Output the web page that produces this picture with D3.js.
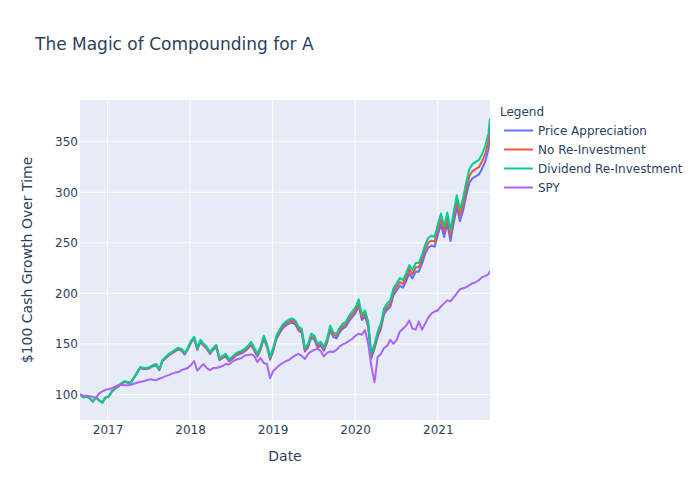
<!DOCTYPE html>
<html><head><meta charset="utf-8">
<script src="https://cdn.jsdelivr.net/npm/d3@7"></script>
<style>body{margin:0;background:#fff;} text{font-family:"DejaVu Sans",verdana,arial,sans-serif;}</style>
</head><body>
<svg id="chart" width="700" height="500"></svg>
<script>
const dates = ["2016-09-01","2016-09-16","2016-09-30","2016-10-14","2016-10-28","2016-11-11","2016-11-25","2016-12-09","2016-12-23",
"2017-01-06","2017-01-20","2017-02-03","2017-02-17","2017-03-03","2017-03-17","2017-03-31","2017-04-14","2017-04-28","2017-05-12","2017-05-26","2017-06-09","2017-06-23","2017-07-07","2017-07-21","2017-08-04","2017-08-18","2017-09-01","2017-09-15","2017-09-29","2017-10-13","2017-10-27","2017-11-10","2017-11-24","2017-12-08","2017-12-22",
"2018-01-05","2018-01-19","2018-02-02","2018-02-16","2018-03-02","2018-03-16","2018-03-30","2018-04-13","2018-04-27","2018-05-11","2018-05-25","2018-06-08","2018-06-22","2018-07-06","2018-07-20","2018-08-03","2018-08-17","2018-08-31","2018-09-14","2018-09-28","2018-10-12","2018-10-26","2018-11-09","2018-11-23","2018-12-07","2018-12-21",
"2019-01-04","2019-01-18","2019-02-01","2019-02-15","2019-03-01","2019-03-15","2019-03-29","2019-04-12","2019-04-26","2019-05-10","2019-05-24","2019-06-07","2019-06-21","2019-07-05","2019-07-19","2019-08-02","2019-08-16","2019-08-30","2019-09-13","2019-09-27","2019-10-11","2019-10-25","2019-11-08","2019-11-22","2019-12-06","2019-12-20",
"2020-01-03","2020-01-17","2020-01-31","2020-02-14","2020-02-28","2020-03-13","2020-03-27","2020-04-10","2020-04-24","2020-05-08","2020-05-22","2020-06-05","2020-06-19","2020-07-03","2020-07-17","2020-07-31","2020-08-14","2020-08-28","2020-09-11","2020-09-25","2020-10-09","2020-10-23","2020-11-06","2020-11-20","2020-12-04","2020-12-18",
"2021-01-01","2021-01-15","2021-01-29","2021-02-12","2021-02-26","2021-03-12","2021-03-26","2021-04-09","2021-04-23","2021-05-07","2021-05-21","2021-06-04","2021-06-18","2021-07-02","2021-07-16","2021-07-30","2021-08-13","2021-08-20"];

const priceAppreciation = [100,97,98,96,92.9,96.8,93.8,91.8,96.7,97.7,
102.6,105.6,107.5,110.5,112.4,111.4,111.4,116.3,121.2,126.2,
125.1,125.1,126.0,128.0,128.9,123.9,132.8,135.8,138.7,140.6,
142.5,144.4,143.4,139.4,144.4,151.1,155.1,144.1,152.0,148.0,
145.0,140.0,143.9,146.8,133.9,135.9,137.8,132.8,134.7,137.7,
139.5,140.5,142.4,145.3,149.1,143.2,137.3,144.1,154.9,147.0,
134.2,142.9,154.6,160.5,165.3,168.2,170.0,170.9,169.0,163.1,
161.0,142.4,146.3,156.0,154.0,146.1,148.0,143.1,150.9,163.4,
156.6,155.5,161.3,165.1,167.0,172.8,176.5,180.3,188.0,173.5,
177.3,166.6,135.5,145.2,156.8,164.6,179.0,183.8,186.7,198.0,
202.8,207.5,205.5,212.0,219.7,214.8,221.5,221.4,229.0,238.7,
245.3,247.2,246.1,257.8,268.3,255.7,269.1,251.8,269.1,285.3,
271.3,281.7,297.0,309.4,314.0,315.8,317.6,323.3,330.5,342.5,356.3];

const noReinvestment = [100,97,98,96,93,96.9,93.9,91.9,96.8,97.8,
102.8,105.8,107.7,110.8,112.7,111.7,111.7,116.6,121.6,126.6,
125.6,125.6,126.5,128.5,129.4,124.4,133.4,136.4,139.3,141.3,
143.3,145.2,144.2,140.2,145.2,152.0,156.0,145.0,153.0,149.0,
146.0,141.0,145.0,147.9,134.9,136.9,138.9,133.9,135.8,138.8,
140.8,141.8,143.7,146.6,150.6,144.6,138.6,145.6,156.4,148.5,
135.6,144.5,156.3,162.2,167.1,170.1,172.0,172.9,171.0,165.0,
163.0,144.2,148.2,158.0,156.0,148.0,150.0,145.0,152.9,165.7,
158.8,157.7,163.6,167.5,169.5,175.4,179.2,183.1,190.9,176.2,
180.2,169.3,137.8,147.6,159.4,167.2,182.0,186.9,189.8,201.5,
206.4,211.2,209.2,216.0,223.9,218.9,225.7,225.7,233.5,243.4,
250.2,252.1,251.1,262.9,273.6,260.9,274.5,256.9,274.5,291.1,
277.2,287.8,303.5,316.2,321.0,322.9,324.8,330.6,338.2,350.3,364.6];

const dividendReinvestment = [100,97,98,96,93,97,94,92,97,98,
103,106,108,111,113,112,112,117,122,127,
126,126,127,129,130,125,134,137,140,142,
144,146,145,141,146,153,157,146,154,150,
147,142,146,149,136,138,140,135,137,140,
142,143,145,148,152,146,140,147,158,150,
137,146,158,164,169,172,174,175,173,167,
165,146,150,160,158,150,152,147,155,168,
161,160,166,170,172,178,182,186,194,179,
183,172,140,150,162,170,185,190,193,205,
210,215,213,220,228,223,230,230,238,248,
255,257,256,268,279,266,280,262,280,297,
283,294,310,323,328,330,332,338,346,358,373];

const spy = [100,98.5,98.5,98,97.5,96.5,101,103,104.5,105,
106,107.5,109,109.5,109,109,109.5,110.5,111.5,112.5,
113,114,115,114.5,114,115.5,116.5,118,119,120.5,
121.5,122,124,125,126,129,133,123.5,127,130,
126,124,126,126,127,128,130,129.5,132,134,
135,136,138.5,139,139.5,138,132,136,131,130,
116,123,126,129,131,133,134,136.5,138.5,140,
138,135,140,142.5,144,145,143,137.5,141,142.5,
142,144,147.5,149.5,151,153,155,158,160,159,
163.5,150,128,112,137,140,146,148,154,150,
154,162,165,168,173,165,164,172,164,170,
176,180,182,183,187,190,193,192,196,200,
204,205,206,208,210,211,213,216,217,219,222];

const seriesNames = ["Price Appreciation","No Re-Investment","Dividend Re-Investment","SPY"];
const seriesColors = ["#636efa","#EF553B","#00cc96","#ab63fa"];
const seriesValues = [priceAppreciation, noReinvestment, dividendReinvestment, spy];
const yTicks = [100,150,200,250,300,350];
const xTickYears = ["2017","2018","2019","2020","2021"];

const FONT = "'DejaVu Sans',verdana,arial,sans-serif";
const svg = d3.select("#chart");
const M = {left:80, right:490, top:100, bottom:420};
const parse = d3.utcParse("%Y-%m-%d");
const dd = dates.map(parse);

const x = d3.scaleUtc().domain([dd[0], dd[dd.length-1]]).range([M.left, M.right]);
const y = d3.scaleLinear().domain([74.6, 391.3]).range([M.bottom, M.top]);

svg.append("rect").attr("x",M.left).attr("y",M.top).attr("width",M.right-M.left).attr("height",M.bottom-M.top).attr("fill","#E5ECF6");

const xt = xTickYears.map(s=>parse(s+"-01-01"));
const g = svg.append("g");
g.selectAll(".vg").data(xt).join("line").attr("x1",d=>x(d)).attr("x2",d=>x(d)).attr("y1",M.top).attr("y2",M.bottom).attr("stroke","#fff").attr("stroke-width",1);
g.selectAll(".hg").data(yTicks).join("line").attr("x1",M.left).attr("x2",M.right).attr("y1",d=>y(d)).attr("y2",d=>y(d)).attr("stroke","#fff").attr("stroke-width",1);

const xAxis = d3.axisBottom(x).tickValues(xt).tickFormat(d3.utcFormat("%Y")).tickSize(0).tickPadding(5);
const xa = svg.append("g").attr("transform",`translate(0,${M.bottom})`).call(xAxis);
xa.select(".domain").remove();
xa.selectAll("text").attr("font-size",12).attr("fill","#2a3f5f").attr("font-family",FONT);
const yAxis = d3.axisLeft(y).tickValues(yTicks).tickSize(0).tickPadding(2);
const ya = svg.append("g").attr("transform",`translate(${M.left},0)`).call(yAxis);
ya.select(".domain").remove();
ya.selectAll("text").attr("font-size",12).attr("fill","#2a3f5f").attr("font-family",FONT);

svg.append("clipPath").attr("id","clip").append("rect").attr("x",M.left).attr("y",M.top).attr("width",M.right-M.left).attr("height",M.bottom-M.top);
const line = d3.line().x((d,i)=>x(dd[i])).y(d=>y(d));
const lg = svg.append("g").attr("clip-path","url(#clip)");
seriesValues.forEach((vals,k)=>{
  lg.append("path").datum(vals).attr("d",line).attr("fill","none").attr("stroke",seriesColors[k]).attr("stroke-width",2).attr("stroke-linejoin","round");
});

svg.append("text").attr("x",35).attr("y",50).attr("font-size",17).attr("fill","#2a3f5f").text("The Magic of Compounding for A");
svg.append("text").attr("x",(M.left+M.right)/2).attr("y",461).attr("text-anchor","middle").attr("font-size",14).attr("fill","#2a3f5f").text("Date");
svg.append("text").attr("transform",`translate(32,${(M.top+M.bottom)/2}) rotate(-90)`).attr("text-anchor","middle").attr("font-size",14).attr("fill","#2a3f5f").text("$100 Cash Growth Over Time");

const leg = svg.append("g");
leg.append("text").attr("x",500).attr("y",116).attr("font-size",12).attr("fill","#2a3f5f").text("Legend");
seriesNames.forEach((n,k)=>{
  const cy = 130.5 + k*19;
  leg.append("line").attr("x1",504).attr("x2",533).attr("y1",cy).attr("y2",cy).attr("stroke",seriesColors[k]).attr("stroke-width",2);
  leg.append("text").attr("x",538).attr("y",cy+4.5).attr("font-size",12).attr("fill","#2a3f5f").text(n);
});
</script>
</body></html>
